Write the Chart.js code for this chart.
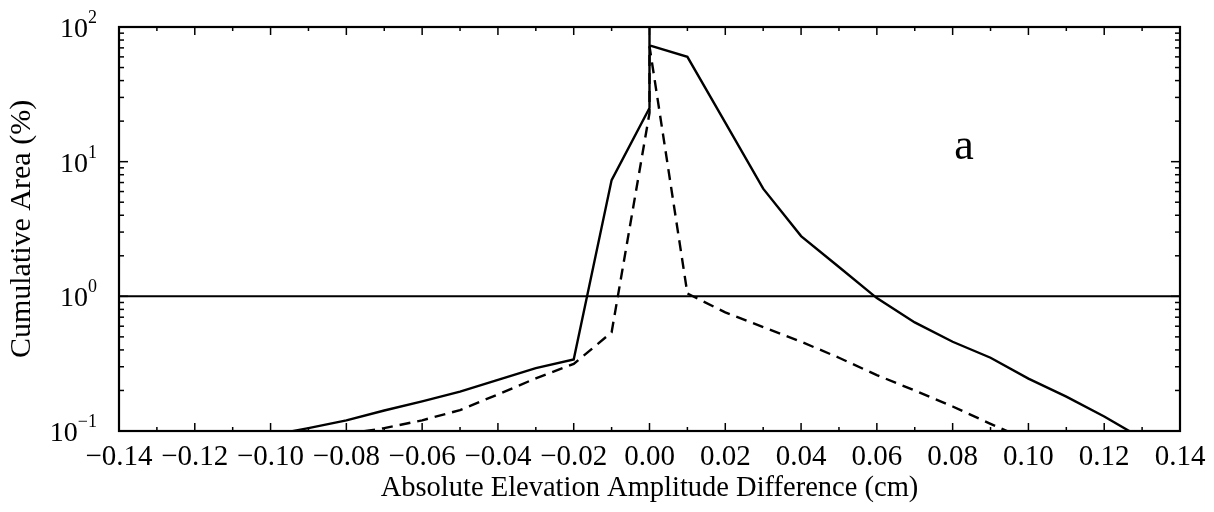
<!DOCTYPE html>
<html>
<head>
<meta charset="utf-8">
<script src="https://cdn.jsdelivr.net/npm/chart.js@4"></script>
<style>
  body { margin: 0; background: #fff; }
  #wrap { width: 1214px; height: 512px; }
</style>
</head>
<body>
<div id="wrap"><canvas id="chart" width="1214" height="512"></canvas></div>
<script>
// Valores (curva cheia e curva tracejada)
const solidX = [-0.10, -0.09, -0.08, -0.07, -0.06, -0.05, -0.04, -0.03, -0.02, -0.01, 0.00, 0.00, 0.00, 0.01, 0.02, 0.03, 0.04, 0.05, 0.06, 0.07, 0.08, 0.09, 0.10, 0.11, 0.12, 0.13];
const solidY = [0.093, 0.105, 0.12, 0.142, 0.166, 0.196, 0.24, 0.293, 0.34, 7.3, 25, 100, 73, 60, 19.5, 6.3, 2.8, 1.65, 0.97, 0.64, 0.46, 0.35, 0.245, 0.18, 0.128, 0.088];

const dashX = [-0.08, -0.07, -0.06, -0.05, -0.04, -0.03, -0.02, -0.01, 0.00, 0.00, 0.01, 0.02, 0.03, 0.04, 0.05, 0.06, 0.07, 0.08, 0.09, 0.10];
const dashY = [0.095, 0.105, 0.12, 0.143, 0.187, 0.246, 0.315, 0.54, 23, 72, 1.05, 0.76, 0.59, 0.46, 0.35, 0.26, 0.20, 0.152, 0.113, 0.085];

// Linha de referência em 1%
const refX = [-0.14, 0.14];
const refY = [1, 1];

// Rótulos dos eixos
const xTickValues = [-0.14, -0.12, -0.10, -0.08, -0.06, -0.04, -0.02, 0.00, 0.02, 0.04, 0.06, 0.08, 0.10, 0.12, 0.14];
const xTickLabels = ['\u22120.14', '\u22120.12', '\u22120.10', '\u22120.08', '\u22120.06', '\u22120.04', '\u22120.02', '0.00', '0.02', '0.04', '0.06', '0.08', '0.10', '0.12', '0.14'];
const yTickValues = [0.1, 1, 10, 100];
const yTickExponents = ['\u22121', '0', '1', '2'];
const panelLabel = 'a';

const SERIF = '"Liberation Serif", "DejaVu Serif", serif';

const toPoints = (xs, ys) => xs.map((x, i) => ({ x: x, y: ys[i] }));

// Moldura, marcas internas, rótulos 10^n e letra do painel
const framePlugin = {
    id: 'framePlugin',
    afterDraw(chart) {
        const { ctx, chartArea: a, scales: { x, y } } = chart;
        ctx.save();
        ctx.strokeStyle = '#000';
        ctx.lineWidth = 1.5;
        const seg = (x1, y1, x2, y2) => { ctx.beginPath(); ctx.moveTo(x1, y1); ctx.lineTo(x2, y2); ctx.stroke(); };

        // marcas do eixo x (maiores a cada 0.02, menores a cada 0.01)
        for (let i = -14; i <= 14; i++) {
            const px = x.getPixelForValue(i / 100);
            const len = i % 2 === 0 ? 8 : 4;
            seg(px, a.bottom, px, a.bottom - len);
            seg(px, a.top, px, a.top + len);
        }
        // marcas do eixo y logarítmico
        for (let d = -1; d <= 1; d++) {
            for (let m = 1; m <= 9; m++) {
                const py = y.getPixelForValue(m * Math.pow(10, d));
                const len = m === 1 ? 9 : 5;
                seg(a.left, py, a.left + len, py);
                seg(a.right, py, a.right - len, py);
            }
        }

        ctx.lineWidth = 2.2;
        ctx.strokeRect(a.left, a.top, a.right - a.left, a.bottom - a.top);

        // rótulos 10^n com expoente sobrescrito
        ctx.fillStyle = '#000';
        ctx.textBaseline = 'alphabetic';
        yTickValues.forEach((v, i) => {
            const py = y.getPixelForValue(v);
            ctx.font = '18px ' + SERIF;
            const wExp = ctx.measureText(yTickExponents[i]).width;
            ctx.font = '28px ' + SERIF;
            const wBase = ctx.measureText('10').width;
            const right = 97;
            ctx.textAlign = 'left';
            ctx.fillText('10', right - wExp - wBase, py + 10);
            ctx.font = '18px ' + SERIF;
            ctx.fillText(yTickExponents[i], right - wExp, py - 4);
        });

        // letra do painel
        ctx.font = '44px ' + SERIF;
        ctx.textAlign = 'center';
        ctx.fillText(panelLabel, x.getPixelForValue(0.083), y.getPixelForValue(10.4));
        ctx.restore();
    }
};

const config = {
    type: 'line',
    data: {
        datasets: [
            {
                data: toPoints(refX, refY),
                borderColor: '#000',
                borderWidth: 2,
                pointRadius: 0,
            },
            {
                data: toPoints(solidX, solidY),
                borderColor: '#000',
                borderWidth: 2.4,
                pointRadius: 0,
                tension: 0,
            },
            {
                data: toPoints(dashX, dashY),
                borderColor: '#000',
                borderWidth: 2.4,
                borderDash: [11, 7],
                pointRadius: 0,
                tension: 0,
            },
        ],
    },
    options: {
        responsive: false,
        animation: false,
        devicePixelRatio: 1,
        layout: { padding: { top: 27, right: 34, left: 0, bottom: 0 } },
        plugins: {
            legend: { display: false },
            tooltip: { enabled: false },
        },
        scales: {
            x: {
                type: 'linear',
                min: -0.14,
                max: 0.14,
                grid: { display: false },
                border: { display: false },
                afterBuildTicks: (s) => { s.ticks = xTickValues.map(v => ({ value: v })); },
                afterFit: (s) => { s.height = 81; },
                ticks: {
                    callback: (v, i) => xTickLabels[i],
                    autoSkip: false,
                    maxRotation: 0,
                    padding: 1,
                    color: '#000',
                    font: { size: 29, family: SERIF },
                },
                title: {
                    display: true,
                    text: 'Absolute Elevation Amplitude Difference (cm)',
                    color: '#000',
                    padding: { top: 0, bottom: 6 },
                    font: { size: 28.5, family: SERIF },
                },
            },
            y: {
                type: 'logarithmic',
                min: 0.1,
                max: 100,
                grid: { display: false },
                border: { display: false },
                ticks: { display: false },
                afterFit: (s) => { s.width = 119; },
                title: {
                    display: true,
                    text: 'Cumulative Area (%)',
                    color: '#000',
                    padding: { top: 4, bottom: 0 },
                    font: { size: 30, family: SERIF },
                },
            },
        },
    },
    plugins: [framePlugin],
};

new Chart(document.getElementById('chart').getContext('2d'), config);
</script>
</body>
</html>
